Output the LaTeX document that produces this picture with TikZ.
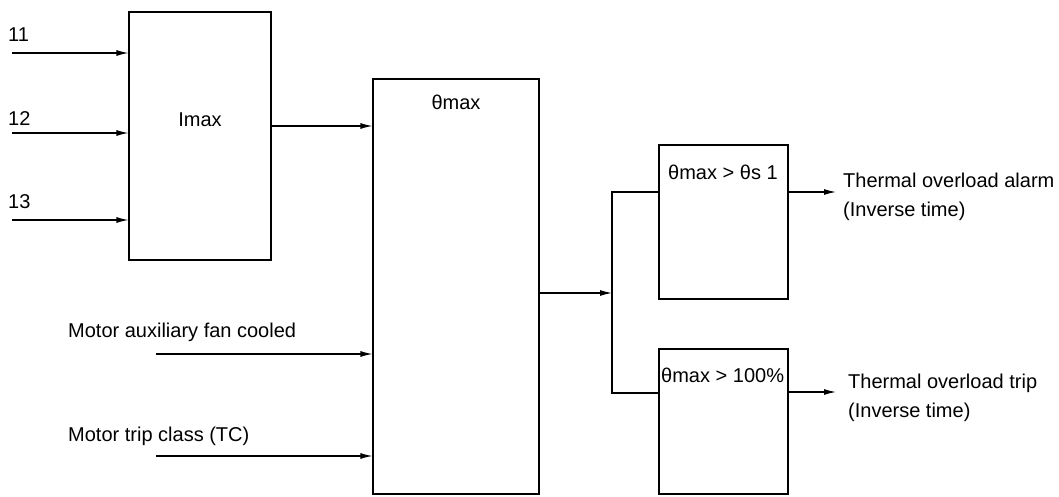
\documentclass[tikz,border=0pt]{standalone}
\usepackage{fontspec}
\setmainfont{Liberation Sans}
\usetikzlibrary{arrows.meta,positioning}

\begin{document}
\begin{tikzpicture}[x=1pt,y=-1pt,font=\fontsize{20}{29}\selectfont,
  blk/.style={draw,line width=1.1pt,inner sep=0pt},
  arr/.style={line width=1.1pt,-{Latex[length=12pt,width=6pt]}},
  wire/.style={line width=1.1pt},
  txt/.style={inner sep=0pt,anchor=west,align=left}]
\useasboundingbox (0,0) rectangle (1059,497);

% Blocks
\node[blk,minimum width=142pt,minimum height=248pt] (imax) at (200,136) {};
\node[blk,minimum width=166pt,minimum height=415pt] (theta) at (456,286.5) {};
\node[blk,minimum width=129pt,minimum height=154pt] (alarm) at (723.5,222) {};
\node[blk,minimum width=129pt,minimum height=145pt] (trip) at (723.5,421.5) {};

% Block texts
\node[inner sep=0pt] (imaxtxt) at (200,120) {Imax};
\node[inner sep=0pt] (thetatxt) at (456,102) {θmax};
\node[txt] (alarmtxt) at (668,172) {θmax > θs 1};
\node[txt] (triptxt) at (661,375) {θmax > 100\%};

% Current inputs
\foreach \n/\y/\ly in {1/53/35,2/133/119,3/220/202} {
  \coordinate (in\n) at (12,\y);
  \node[txt] (lab\n) at (8,\ly) {1\n};
  \draw[arr] (in\n) -- (in\n -| imax.west);
}

% Imax to theta
\coordinate (imaxout) at ([yshift=10pt]imax.east);
\draw[arr] (imaxout) -- (imaxout -| theta.west);

% Motor inputs
\node[txt] (fan) at (68,332) {Motor auxiliary fan cooled};
\node[txt] (tc) at (68,436) {Motor trip class (TC)};
\coordinate (fanin) at (156,354);
\coordinate (tcin) at (156,456);
\draw[arr] (fanin) -- (fanin -| theta.west);
\draw[arr] (tcin) -- (tcin -| theta.west);

% Comparators
\coordinate (jn) at (612,293);
\coordinate (jtop) at (612,192);
\coordinate (jbot) at (612,393);
\draw[arr] (jn -| theta.east) -- (jn);
\draw[wire] (alarm.west |- jtop) -- (jtop) -- (jbot) -- (trip.west |- jbot);

% Outputs
\coordinate (alarmout) at (836,192);
\coordinate (tripout) at (836,392);
\draw[arr] (alarm.east |- alarmout) -- (alarmout);
\draw[arr] (trip.east |- tripout) -- (tripout);
\node[txt] (alarmlab) at (843,197) {Thermal overload alarm\\(Inverse time)};
\node[txt] (triplab) at (848,398) {Thermal overload trip\\(Inverse time)};
\end{tikzpicture}
\end{document}
